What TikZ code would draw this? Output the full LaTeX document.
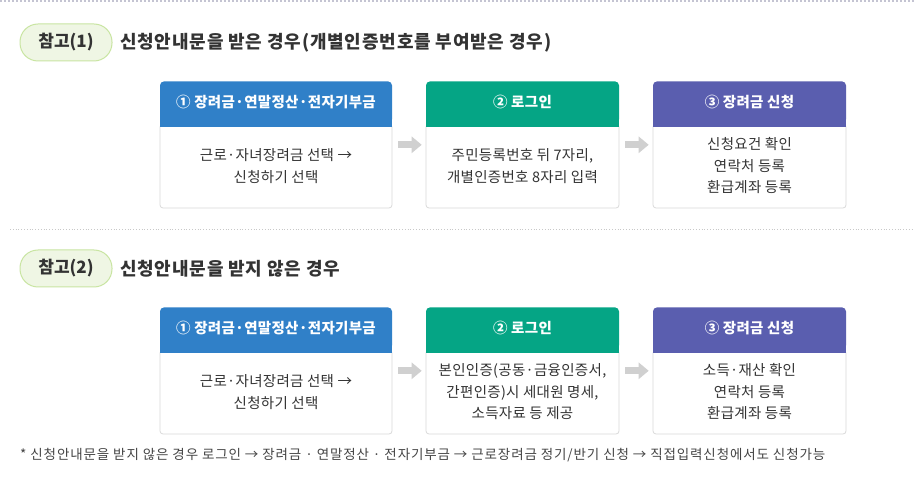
\documentclass[tikz,border=0pt]{standalone}
\usepackage{fontspec}
\setmainfont{Noto Sans CJK KR}
\usetikzlibrary{positioning,calc,arrows.meta}

\definecolor{hblue}{HTML}{3080C8}
\definecolor{hgreen}{HTML}{05A585}
\definecolor{hpurple}{HTML}{5A5EAF}
\definecolor{boxline}{HTML}{DADADA}
\definecolor{arrowgray}{HTML}{D0D0D0}
\definecolor{badgefill}{HTML}{EFF6E4}
\definecolor{badgeline}{HTML}{C9E5A2}
\definecolor{darktext}{HTML}{333333}
\definecolor{notetext}{HTML}{444444}
\definecolor{sepgray}{HTML}{C8C8C8}
\definecolor{hatchgray}{HTML}{C4C4D2}

\begin{document}
\begin{tikzpicture}[x=1pt,y=1pt,
	refbadge/.style={draw=badgeline,fill=badgefill,line width=1pt,rounded corners=18pt,minimum width=92pt,minimum height=37pt,inner sep=0pt,font=\fontsize{17}{17}\selectfont\bfseries,text=darktext},
	rowtitle/.style={anchor=west,inner sep=0pt,font=\fontsize{18}{18}\selectfont\bfseries\addfontfeature{LetterSpace=4.5},text=darktext},
	stepbody/.style={draw=boxline,fill=white,line width=0.8pt,rounded corners=3pt,minimum height=84pt,align=center,font=\fontsize{14.5}{21.5}\selectfont\addfontfeature{LetterSpace=2},text=darktext,inner sep=0pt},
	stephead/.style={rounded corners=4pt,minimum height=42pt,inner sep=0pt,text=white,font=\fontsize{14.5}{14.5}\selectfont\bfseries\addfontfeature{LetterSpace=2}},
	flowarrow/.style={draw=arrowgray,line width=7pt,-{Triangle[length=10pt 0,width=16pt 0]},shorten <=6pt,shorten >=4pt}]
	\useasboundingbox[fill=white] (0,0) rectangle (914,485);

	\draw[hatchgray,line width=1.5pt,dash pattern=on 1.5pt off 2.5pt] (0,484) -- (914,484);

	\node[refbadge] (badge1) at (66,442.5) {참고(1)};
	\node[rowtitle] (title1) at (120,442.5) {신청안내문을 받은 경우(개별인증번호를 부여받은 경우)};

	\node[stepbody,minimum width=232pt] (b11) at (276,319) {근로·자녀장려금 선택 →\\신청하기 선택};
	\node[stepbody,minimum width=193pt] (b12) at (522.5,319) {주민등록번호 뒤 7자리,\\개별인증번호 8자리 입력};
	\node[stepbody,minimum width=193pt] (b13) at (749.5,319) {신청요건 확인\\연락처 등록\\환급계좌 등록};
	\node[stephead,fill=hblue,minimum width=232pt,above=0pt of b11] (h11) {① 장려금·연말정산·전자기부금};
	\node[stephead,fill=hgreen,minimum width=193pt,above=0pt of b12] (h12) {② 로그인};
	\node[stephead,fill=hpurple,minimum width=193pt,above=0pt of b13] (h13) {③ 장려금 신청};

	\draw[sepgray,line width=0.8pt,dotted] (10,256) -- (914,256);

	\node[refbadge] (badge2) at (66,216.5) {참고(2)};
	\node[rowtitle] (title2) at (120,216.5) {신청안내문을 받지 않은 경우};

	\node[stepbody,minimum width=232pt] (b21) at (276,93) {근로·자녀장려금 선택 →\\신청하기 선택};
	\node[stepbody,minimum width=193pt] (b22) at (522.5,93) {본인인증(공동·금융인증서,\\간편인증)시 세대원 명세,\\소득자료 등 제공};
	\node[stepbody,minimum width=193pt] (b23) at (749.5,93) {소득·재산 확인\\연락처 등록\\환급계좌 등록};
	\node[stephead,fill=hblue,minimum width=232pt,above=0pt of b21] (h21) {① 장려금·연말정산·전자기부금};
	\node[stephead,fill=hgreen,minimum width=193pt,above=0pt of b22] (h22) {② 로그인};
	\node[stephead,fill=hpurple,minimum width=193pt,above=0pt of b23] (h23) {③ 장려금 신청};

	\foreach \h/\c in {h11/hblue,h12/hgreen,h13/hpurple,h21/hblue,h22/hgreen,h23/hpurple}
		\fill[\c] ([yshift=5pt]\h.south west) rectangle ([yshift=-3pt]\h.south east);

	\foreach \r in {1,2}{
		\draw[flowarrow] ($(h\r1.north east)!0.5!(b\r1.south east)$) -- ($(h\r2.north west)!0.5!(b\r2.south west)$);
		\draw[flowarrow] ($(h\r2.north east)!0.5!(b\r2.south east)$) -- ($(h\r3.north west)!0.5!(b\r3.south west)$);
	}

	\node[anchor=west,inner sep=0pt,font=\fontsize{13.5}{13.5}\selectfont\addfontfeature{LetterSpace=6.5},text=notetext] (note) at (20,30) {* 신청안내문을 받지 않은 경우 로그인 → 장려금 · 연말정산 · 전자기부금 → 근로장려금 정기/반기 신청 → 직접입력신청에서도 신청가능};
\end{tikzpicture}
\end{document}
